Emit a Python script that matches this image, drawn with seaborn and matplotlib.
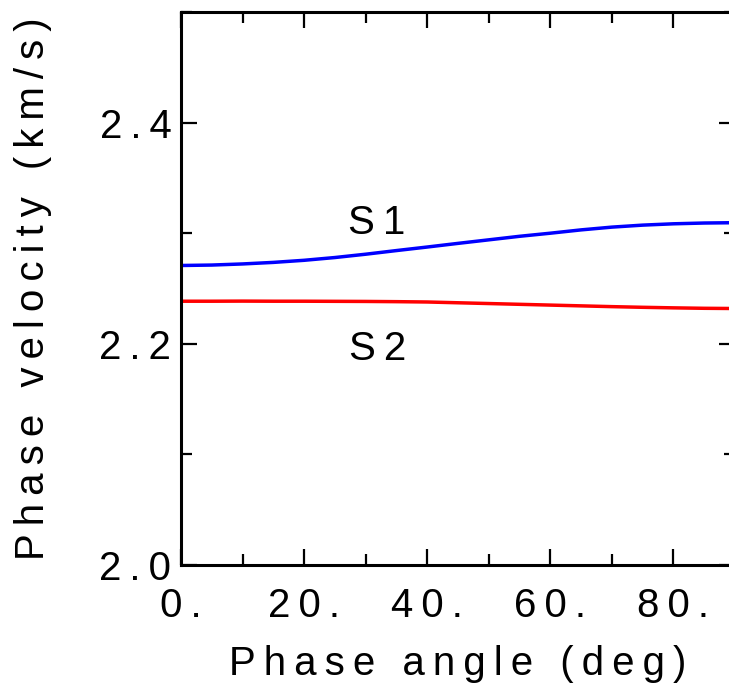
import matplotlib
matplotlib.use("Agg")
import matplotlib.pyplot as plt
import seaborn as sns
import pandas as pd
from matplotlib.ticker import MultipleLocator, FixedLocator, FixedFormatter

# ---- data ----
angle = [0, 5, 10, 15, 20, 25, 30, 35, 40, 45, 50, 55, 60, 65, 70, 75, 80, 85, 90]
s1_velocity = [2.2708, 2.2712, 2.2722, 2.2736, 2.2755, 2.2780, 2.2810, 2.2843, 2.2875, 2.2908,
               2.2940, 2.2972, 2.3000, 2.3030, 2.3055, 2.3073, 2.3085, 2.3092, 2.3095]
s2_velocity = [2.2385, 2.2385, 2.2386, 2.2385, 2.2385, 2.2384, 2.2383, 2.2381, 2.2378, 2.2371,
               2.2364, 2.2357, 2.2350, 2.2343, 2.2336, 2.2330, 2.2325, 2.2321, 2.2319]
series_names = ["S1", "S2"]
x_ticks = [0, 20, 40, 60, 80]
x_tick_labels = ["0.", "20.", "40.", "60.", "80."]
y_ticks = [2.0, 2.2, 2.4]
y_tick_labels = ["2.0", "2.2", "2.4"]
x_label = "Phase angle (deg)"
y_label = "Phase velocity (km/s)"

SP = "\u2009"
def spaced(s):
    return SP.join(list(s))

sns.set_theme(style="ticks")
plt.rcParams['font.family'] = ['Liberation Sans', 'DejaVu Sans']

df = pd.DataFrame({
    "angle": angle * 2,
    "velocity": s1_velocity + s2_velocity,
    "wave": [series_names[0]] * len(angle) + [series_names[1]] * len(angle),
})

fig = plt.figure(figsize=(7.29, 6.86), dpi=100)
ax = fig.add_axes([181 / 729, (686 - 565) / 686, 554 / 729, 553 / 686])

sns.lineplot(data=df, x="angle", y="velocity", hue="wave",
             palette={"S1": "#0000ff", "S2": "#ff0000"}, linewidth=2.5,
             legend=False, ax=ax)

ax.set_xlim(0, 90)
ax.set_ylim(2.0, 2.5)

FS = 29
ax.xaxis.set_major_locator(FixedLocator(x_ticks))
ax.xaxis.set_major_formatter(FixedFormatter([spaced(t) for t in x_tick_labels]))
ax.xaxis.set_minor_locator(MultipleLocator(10))
ax.yaxis.set_major_locator(FixedLocator(y_ticks))
ax.yaxis.set_major_formatter(FixedFormatter([spaced(t) for t in y_tick_labels]))
ax.yaxis.set_minor_locator(MultipleLocator(0.1))

ax.tick_params(which="both", direction="in", top=True, right=True, color="black", width=1.6)
ax.tick_params(which="major", length=11.5)
ax.tick_params(which="minor", length=7.8)
ax.tick_params(axis="x", which="major", labelsize=FS, pad=16, labelcolor="black")
ax.tick_params(axis="y", which="major", labelsize=FS, pad=7, labelcolor="black")

for sp in ax.spines.values():
    sp.set_visible(True)
    sp.set_linewidth(2.2)
    sp.set_color("black")

ax.set_xlabel(spaced(x_label), fontsize=FS, labelpad=14, color="black")
ax.set_ylabel(spaced(y_label), fontsize=FS, labelpad=34, color="black")

ax.text(31.8, 2.3096, spaced(series_names[0]), fontsize=FS, ha="center", va="center", color="black")
ax.text(32.0, 2.195, spaced(series_names[1]), fontsize=FS, ha="center", va="center", color="black")

fig.savefig("out.png", dpi=100, facecolor="white")
